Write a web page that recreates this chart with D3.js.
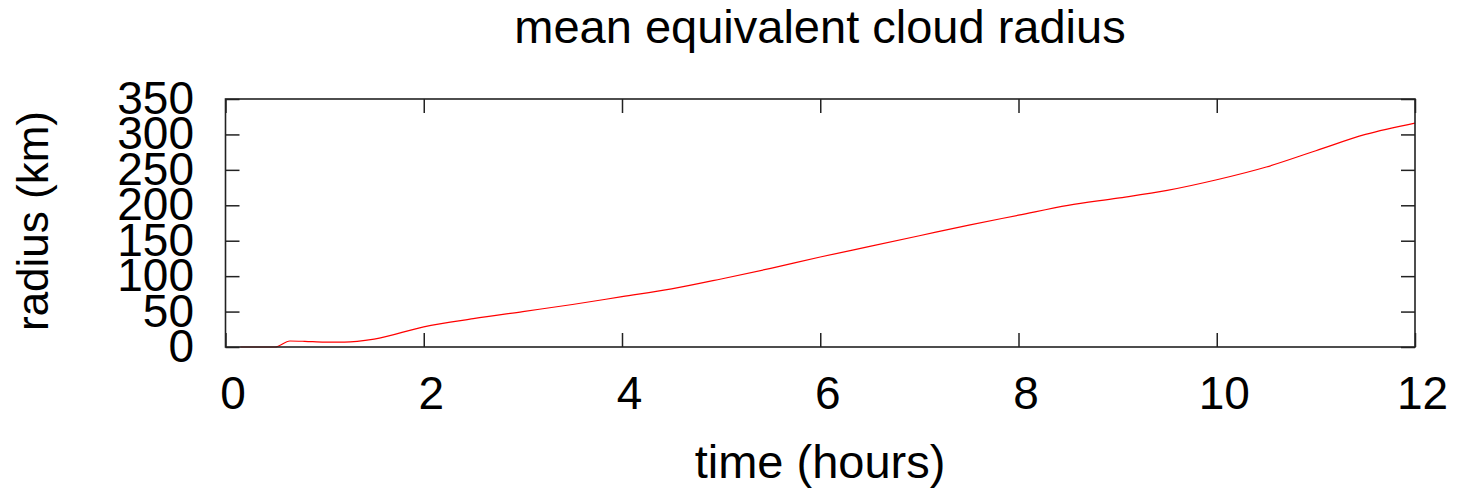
<!DOCTYPE html>
<html><head><meta charset="utf-8">
<script src="https://cdn.jsdelivr.net/npm/d3@7"></script>
<style>body{margin:0;background:#fff}svg{display:block}text{font-family:"Liberation Sans",Arial,sans-serif;fill:#000}</style>
</head><body>
<script>
const title = "mean equivalent cloud radius";
const xLabel = "time (hours)";
const yLabel = "radius (km)";
const xTicks = [0,2,4,6,8,10,12];
const yTicks = [0,50,100,150,200,250,300,350];
const timeHours = [0.15,0.5,0.65,0.8,1.0,1.2,1.5,2.0,2.5,3.0,3.5,4.0,4.5,5.0,5.5,6.0,6.5,7.0,7.5,8.0,8.5,9.0,9.5,10.0,10.5,11.0,11.5,12.0];
const radiusKm = [0,0,8.5,8,6.8,6.8,11,28.5,40,50,60,71,82,96,111,127,142,157,172,186,200,210,221,236,254,277,300,316];

const W=1458,H=490;
const m={l:225.5,r:1415,t:99,b:347};
const svg=d3.select("body").append("svg").attr("width",W).attr("height",H);
const x=d3.scaleLinear().domain([0,12]).range([m.l,m.r]);
const y=d3.scaleLinear().domain([0,350]).range([m.b,m.t]);
const fs=46;

// line
const data=timeHours.map((t,i)=>({t,r:radiusKm[i]}));
svg.append("path").datum(data)
  .attr("fill","none").attr("stroke","#ff0000").attr("stroke-width",1.2)
  .attr("d",d3.line().x(d=>x(d.t)).y(d=>y(d.r)).curve(d3.curveMonotoneX));

// axes
const axB=svg.append("g").attr("transform",`translate(0,${m.b})`)
  .call(d3.axisBottom(x).tickValues(xTicks).tickSizeInner(-14).tickSizeOuter(0));
const axT=svg.append("g").attr("transform",`translate(0,${m.t})`)
  .call(d3.axisTop(x).tickValues(xTicks).tickSizeInner(-14).tickSizeOuter(0).tickFormat(""));
const axL=svg.append("g").attr("transform",`translate(${m.l},0)`)
  .call(d3.axisLeft(y).tickValues(yTicks).tickSizeInner(-14).tickSizeOuter(0));
const axR=svg.append("g").attr("transform",`translate(${m.r},0)`)
  .call(d3.axisRight(y).tickValues(yTicks).tickSizeInner(-14).tickSizeOuter(0).tickFormat(""));
[axB,axT,axL,axR].forEach(a=>{
  a.select(".domain").remove();
  a.selectAll(".tick line").attr("stroke","#222").attr("stroke-width",1.5);
  a.selectAll("text").style("font-size",fs+"px").attr("font-family",null);
});
axB.selectAll(".tick text").attr("x",7).attr("dy",null).attr("y",409-m.b);
axL.selectAll(".tick text").attr("dy",null).attr("y",14.5).attr("x",-(m.l-194));
// frame
svg.append("rect").attr("x",m.l).attr("y",m.t).attr("width",m.r-m.l).attr("height",m.b-m.t)
  .attr("fill","none").attr("stroke","#222").attr("stroke-width",1.6);

svg.append("text").attr("x",820).attr("y",43).attr("text-anchor","middle").style("font-size","47px").text(title);
svg.append("text").attr("x",820).attr("y",478).attr("text-anchor","middle").style("font-size","47px").text(xLabel);
svg.append("text").attr("transform","translate(48,221) rotate(-90)").attr("text-anchor","middle").style("font-size","44px").text(yLabel);
</script>
</body></html>
